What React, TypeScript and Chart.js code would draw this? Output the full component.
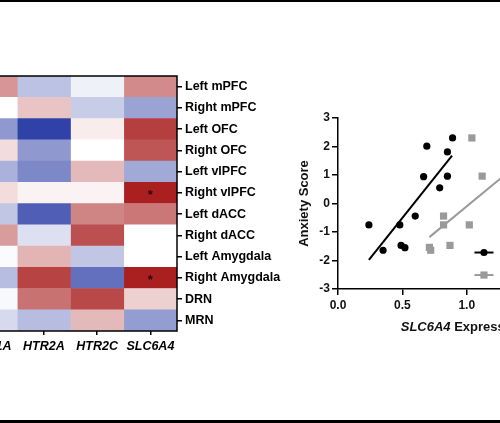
import React, { useEffect, useRef } from "react";
import { Chart, registerables } from "chart.js";

Chart.register(...registerables);

// ---------- Heatmap data ----------
const regions = [
  "Left mPFC",
  "Right mPFC",
  "Left OFC",
  "Right OFC",
  "Left vlPFC",
  "Right vlPFC",
  "Left dACC",
  "Right dACC",
  "Left Amygdala",
  "Right Amygdala",
  "DRN",
  "MRN",
];
const genes = ["HTR1A", "HTR2A", "HTR2C", "SLC6A4"];
const htr1a = [0.45, 0.0, -0.5, 0.15, -0.38, 0.15, -0.28, 0.42, -0.02, -0.32, -0.03, -0.18];
const htr2a = [-0.3, 0.25, -0.92, -0.5, -0.58, 0.05, -0.78, -0.15, 0.32, 0.8, 0.6, -0.32];
const htr2c = [-0.07, -0.25, 0.08, 0.0, 0.3, 0.05, 0.52, 0.75, -0.28, -0.7, 0.78, 0.3];
const slc6a4 = [0.5, -0.45, 0.82, 0.72, -0.42, 0.95, 0.58, 0.0, 0.0, 0.95, 0.2, -0.48];
const sigRegions = ["Right vlPFC", "Right Amygdala"];
const sigGene = "SLC6A4";

// ---------- Scatter data ----------
const group1Label = "Group 1";
const group1X = [0.24, 0.35, 0.48, 0.49, 0.52, 0.6, 0.665, 0.69, 0.79, 0.85, 0.85, 0.89];
const group1Y = [-0.75, -1.64, -0.75, -1.47, -1.55, -0.44, 0.94, 2.01, 0.55, 1.81, 0.96, 2.3];
const group2Label = "Group 2";
const group2X = [0.71, 0.72, 0.82, 0.82, 0.87, 1.02, 1.04, 1.12];
const group2Y = [-1.54, -1.64, -0.44, -0.75, -1.47, -0.75, 2.3, 0.96];
const fit1X = [0.24, 0.886];
const fit1Y = [-1.98, 1.68];
const fit2X = [0.71, 1.3];
const fit2Y = [-1.18, 1.02];
const yTicks = [-3, -2, -1, 0, 1, 2, 3];
const xTicks = [0, 0.5, 1.0, 1.5];

const FONT = "'Liberation Sans', Arial, sans-serif";
const NEG = [30, 50, 160];
const POS = [165, 20, 20];
const GREY = "#9a9a9a";

function colorFor(v: number): string {
  const t = Math.min(1, Math.abs(v));
  const c = v < 0 ? NEG : POS;
  const r = Math.round(255 + (c[0] - 255) * t);
  const g = Math.round(255 + (c[1] - 255) * t);
  const b = Math.round(255 + (c[2] - 255) * t);
  return `rgb(${r},${g},${b})`;
}

const heatValues = [htr1a, htr2a, htr2c, slc6a4];

const heatPlugin = {
  id: "heatFrame",
  afterDatasetsDraw(chart: any) {
    const { ctx, chartArea: a, scales } = chart;
    ctx.save();
    ctx.strokeStyle = "#000";
    ctx.lineWidth = 1.5;
    ctx.strokeRect(a.left, a.top, a.right - a.left, a.bottom - a.top);
    ctx.fillStyle = "#2a0505";
    ctx.font = `bold 13px ${FONT}`;
    ctx.textAlign = "center";
    ctx.textBaseline = "middle";
    const gi = genes.indexOf(sigGene);
    sigRegions.forEach((r) => {
      const ri = regions.indexOf(r);
      const x = scales.x.getPixelForValue(gi + 0.5);
      const y = scales.y.getPixelForValue(ri);
      ctx.fillText("*", x, y + 3);
    });
    ctx.restore();
  },
};

const scatterPlugin = {
  id: "scatterExtras",
  afterDraw(chart: any) {
    const { ctx, chartArea: a, scales } = chart;
    ctx.save();
    // x-axis title with italic gene name
    const p1 = "SLC6A4";
    const p2 = " Expression";
    const f1 = `italic bold 13px ${FONT}`;
    const f2 = `bold 13px ${FONT}`;
    ctx.font = f1;
    const w1 = ctx.measureText(p1).width;
    ctx.font = f2;
    const w2 = ctx.measureText(p2).width;
    const cx = (a.left + a.right) / 2 - 1;
    const ty = a.bottom + 38;
    let x0 = cx - (w1 + w2) / 2;
    ctx.fillStyle = "#111";
    ctx.textBaseline = "middle";
    ctx.textAlign = "left";
    ctx.font = f1;
    ctx.fillText(p1, x0, ty);
    ctx.font = f2;
    ctx.fillText(p2, x0 + w1, ty);

    // legend inside plot area
    const lx = scales.x.getPixelForValue(1.134);
    const items = [
      { label: group1Label, color: "#000", shape: "circle", y: -1.72 },
      { label: group2Label, color: GREY, shape: "rect", y: -2.51 },
    ];
    items.forEach((it) => {
      const ly = scales.y.getPixelForValue(it.y);
      ctx.strokeStyle = it.color;
      ctx.fillStyle = it.color;
      ctx.lineWidth = 2;
      ctx.beginPath();
      ctx.moveTo(lx - 9.5, ly);
      ctx.lineTo(lx + 9.5, ly);
      ctx.stroke();
      if (it.shape === "circle") {
        ctx.beginPath();
        ctx.arc(lx, ly, 3.6, 0, Math.PI * 2);
        ctx.fill();
      } else {
        ctx.fillRect(lx - 3.6, ly - 3.6, 7.2, 7.2);
      }
      ctx.fillStyle = "#000";
      ctx.font = `bold 12px ${FONT}`;
      ctx.fillText(it.label, lx + 20, ly);
    });
    ctx.restore();
  },
};

export default function App() {
  const heatRef = useRef<HTMLCanvasElement | null>(null);
  const scatRef = useRef<HTMLCanvasElement | null>(null);

  useEffect(() => {
    document.body.style.margin = "0";
    const heat = new Chart(heatRef.current as HTMLCanvasElement, {
      type: "bar",
      data: {
        labels: regions,
        datasets: genes.map((g, gi) => ({
          label: g,
          data: regions.map(() => [gi, gi + 1]) as any,
          backgroundColor: heatValues[gi].map(colorFor),
          borderWidth: 0,
          barPercentage: 1,
          categoryPercentage: 1,
          grouped: false,
        })),
      },
      options: {
        indexAxis: "y",
        responsive: false,
        animation: false,
        events: [],
        layout: { padding: { left: 14, top: 16, right: 0, bottom: 0 } },
        plugins: { legend: { display: false }, tooltip: { enabled: false } },
        scales: {
          x: {
            type: "linear",
            min: 0,
            max: genes.length,
            position: "bottom",
            afterFit(s: any) {
              s.height = 30;
            },
            afterBuildTicks(s: any) {
              s.ticks = genes.map((_, i) => ({ value: i + 0.5 }));
            },
            ticks: {
              autoSkip: false,
              maxRotation: 0,
              color: "#000",
              padding: 4,
              font: { family: FONT, size: 12.5, weight: "bold", style: "italic" },
              callback: (v: any) => genes[Math.floor(Number(v))],
            },
            grid: { drawOnChartArea: false, drawTicks: true, tickLength: 4, color: "#000", lineWidth: 1.5 },
            border: { display: false },
          },
          y: {
            type: "category",
            position: "right",
            afterFit(s: any) {
              s.width = 110;
            },
            ticks: {
              autoSkip: false,
              color: "#000",
              padding: 3,
              font: { family: FONT, size: 12.5, weight: "bold" },
            },
            grid: { offset: false, drawOnChartArea: false, drawTicks: true, tickLength: 5, color: "#000", lineWidth: 1.5 },
            border: { display: false },
          },
        },
      } as any,
      plugins: [heatPlugin],
    });

    const scat = new Chart(scatRef.current as HTMLCanvasElement, {
      type: "scatter",
      data: {
        datasets: [
          {
            label: group1Label,
            data: group1X.map((x, i) => ({ x, y: group1Y[i] })),
            pointStyle: "circle",
            pointRadius: 3.6,
            backgroundColor: "#000",
            borderWidth: 0,
          },
          {
            label: group2Label,
            data: group2X.map((x, i) => ({ x, y: group2Y[i] })),
            pointStyle: "rect",
            pointRadius: 5.1,
            backgroundColor: GREY,
            borderWidth: 0,
          },
          {
            label: "fit1",
            data: fit1X.map((x, i) => ({ x, y: fit1Y[i] })),
            showLine: true,
            pointRadius: 0,
            borderColor: "#000",
            borderWidth: 2,
          },
          {
            label: "fit2",
            data: fit2X.map((x, i) => ({ x, y: fit2Y[i] })),
            showLine: true,
            pointRadius: 0,
            borderColor: GREY,
            borderWidth: 2,
          },
        ] as any,
      },
      options: {
        responsive: false,
        animation: false,
        events: [],
        layout: { padding: { left: 0, top: 18, right: 12, bottom: 0 } },
        plugins: { legend: { display: false }, tooltip: { enabled: false } },
        scales: {
          x: {
            type: "linear",
            min: 0,
            max: 1.95,
            afterFit(s: any) {
              s.height = 51;
            },
            afterBuildTicks(s: any) {
              s.ticks = xTicks.map((v) => ({ value: v }));
            },
            ticks: {
              autoSkip: false,
              maxRotation: 0,
              color: "#111",
              padding: 3,
              font: { family: FONT, size: 12, weight: "bold" },
              callback: (v: any) => Number(v).toFixed(1),
            },
            grid: { drawOnChartArea: false, drawTicks: true, tickLength: 6, color: "#000", lineWidth: 1.5 },
            border: { display: true, color: "#000", width: 1.5 },
          },
          y: {
            type: "linear",
            min: -3,
            max: 3,
            afterFit(s: any) {
              s.width = 48;
            },
            afterBuildTicks(s: any) {
              s.ticks = yTicks.map((v) => ({ value: v }));
            },
            ticks: {
              autoSkip: false,
              color: "#111",
              padding: 2,
              font: { family: FONT, size: 12, weight: "bold" },
              callback: (v: any) => String(v),
            },
            grid: { drawOnChartArea: false, drawTicks: true, tickLength: 6, color: "#000", lineWidth: 1.5 },
            border: { display: true, color: "#000", width: 1.5 },
            title: {
              display: true,
              text: "Anxiety Score",
              color: "#111",
              font: { family: FONT, size: 13, weight: "bold" },
              padding: { top: 7, bottom: 0 },
            },
          },
        },
      } as any,
      plugins: [scatterPlugin],
    });

    return () => {
      heat.destroy();
      scat.destroy();
    };
  }, []);

  return (
    <div
      style={{
        position: "fixed",
        left: 0,
        top: 0,
        width: 500,
        height: 423,
        overflow: "hidden",
        background: "#fff",
      }}
    >
      <div style={{ position: "absolute", left: 0, top: 0, width: 500, height: 2, background: "#000" }} />
      <div style={{ position: "absolute", left: 0, top: 420, width: 500, height: 3, background: "#000" }} />
      <canvas
        ref={heatRef}
        width={337}
        height={301}
        style={{ position: "absolute", left: -50, top: 60, width: 337, height: 301 }}
      />
      <canvas
        ref={scatRef}
        width={311}
        height={240}
        style={{ position: "absolute", left: 290, top: 100, width: 311, height: 240 }}
      />
    </div>
  );
}
